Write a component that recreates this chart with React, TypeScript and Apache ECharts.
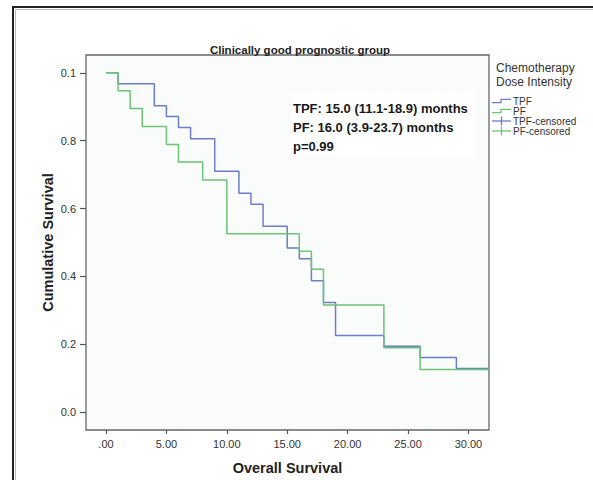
import React, { useEffect, useRef } from "react";
import * as echarts from "echarts";

// Kaplan-Meier step data: [time (months), cumulative survival]
const tpfTimes = [0, 1, 4, 5, 6, 7, 9, 11, 12, 13, 15, 16, 17, 18, 19, 23, 26, 29, 31.7];
const tpfSurvival = [1, 0.968, 0.903, 0.871, 0.839, 0.806, 0.71, 0.645, 0.613, 0.548, 0.484, 0.452, 0.387, 0.323, 0.226, 0.194, 0.161, 0.129, 0.129];
const pfTimes = [0, 1, 2, 3, 5, 6, 8, 10, 16, 17, 18, 23, 26, 31.7];
const pfSurvival = [1, 0.947, 0.895, 0.842, 0.789, 0.737, 0.684, 0.526, 0.474, 0.421, 0.316, 0.19, 0.126, 0.126];

const xTickValues = [0, 5, 10, 15, 20, 25, 30];
const xTickLabels = [".00", "5.00", "10.00", "15.00", "20.00", "25.00", "30.00"];
const yTickValues = [0, 0.2, 0.4, 0.6, 0.8, 1.0];
const yTickLabels = ["0.0", "0.2", "0.4", "0.6", "0.8", "0.1"];

const legendTitle = ["Chemotherapy", "Dose Intensity"];
const legendNames = ["TPF", "PF", "TPF-censored", "PF-censored"];
const annotationLines = ["TPF: 15.0 (11.1-18.9) months", "PF: 16.0 (3.9-23.7) months", "p=0.99"];

const BLUE = "#6b7ec6";
const GREEN = "#6cc478";
const FONT = "'Liberation Sans', Arial, sans-serif";

export default function App() {
  const ref = useRef<HTMLDivElement>(null);
  useEffect(() => {
    if (!ref.current) return;
    const chart = echarts.init(ref.current, undefined, { renderer: "svg" });
    const tpfData = tpfTimes.map((t, i) => [t, tpfSurvival[i]]);
    const pfData = pfTimes.map((t, i) => [t, pfSurvival[i]]);

    const legendX = 492;
    const legendRows = [101, 111, 121, 131];
    const legendColors = [BLUE, GREEN, BLUE, GREEN];
    const legendGraphics: any[] = [];
    legendNames.forEach((name, i) => {
      const y = legendRows[i];
      if (i < 2) {
        legendGraphics.push({
          type: "polyline",
          shape: { points: [[legendX, y + 1.7], [legendX + 9, y + 1.7], [legendX + 9, y - 1.7], [legendX + 19, y - 1.7]] },
          style: { stroke: legendColors[i], lineWidth: 1.3, fill: null },
        });
      } else {
        legendGraphics.push({
          type: "line",
          shape: { x1: legendX, y1: y, x2: legendX + 19, y2: y },
          style: { stroke: legendColors[i], lineWidth: 1.3 },
        });
        legendGraphics.push({
          type: "line",
          shape: { x1: legendX + 9.5, y1: y - 4.5, x2: legendX + 9.5, y2: y + 4.5 },
          style: { stroke: legendColors[i], lineWidth: 1.3 },
        });
      }
      legendGraphics.push({
        type: "text",
        x: legendX + 21,
        y,
        style: { text: name, font: `10px ${FONT}`, lineHeight: 9.5, fill: "#333", verticalAlign: "middle" },
      });
    });

    chart.setOption({
      animation: false,
      backgroundColor: "#ffffff",
      title: {
        text: "Clinically good prognostic group",
        left: 295,
        textAlign: "center",
        top: 39,
        textStyle: { fontFamily: FONT, fontSize: 11.5, fontWeight: "bold", color: "#222" },
      },
      grid: {
        left: 86,
        top: 55,
        width: 403,
        height: 379,
        show: true,
        backgroundColor: "#fafbfb",
        borderColor: "#666",
        borderWidth: 1.3,
      },
      xAxis: {
        type: "value",
        min: -1.655,
        max: 31.7,
        name: "Overall Survival",
        nameLocation: "middle",
        nameGap: 30,
        nameMoveOverlap: false,
        nameTextStyle: { fontFamily: FONT, fontSize: 14.5, fontWeight: "bold", color: "#222" },
        axisLine: { show: false, onZero: false },
        splitLine: { show: false },
        axisTick: { show: true, customValues: xTickValues, length: 4, lineStyle: { color: "#555", width: 1.2 } },
        axisLabel: {
          customValues: xTickValues,
          formatter: (v: number) => {
            const i = xTickValues.findIndex((x) => Math.abs(x - v) < 1e-6);
            return i >= 0 ? xTickLabels[i] : "";
          },
          fontFamily: FONT,
          fontSize: 11,
          color: "#333",
          margin: 8,
        },
      },
      yAxis: {
        type: "value",
        min: -0.0525,
        max: 1.0525,
        name: "Cumulative Survival",
        nameLocation: "middle",
        nameGap: 31,
        nameMoveOverlap: false,
        nameTextStyle: { fontFamily: FONT, fontSize: 14.5, fontWeight: "bold", color: "#222" },
        axisLine: { show: false, onZero: false },
        splitLine: { show: false },
        axisTick: { show: true, customValues: yTickValues, length: 6, lineStyle: { color: "#555", width: 1.2 } },
        axisLabel: {
          customValues: yTickValues,
          formatter: (v: number) => {
            const i = yTickValues.findIndex((x) => Math.abs(x - v) < 1e-6);
            return i >= 0 ? yTickLabels[i] : "";
          },
          fontFamily: FONT,
          fontSize: 11,
          color: "#333",
          margin: 10,
        },
      },
      series: [
        {
          name: "TPF",
          type: "line",
          step: "end",
          data: tpfData,
          showSymbol: false,
          symbol: "none",
          lineStyle: { color: BLUE, width: 1.5 },
          itemStyle: { color: BLUE },
          z: 2,
        },
        {
          name: "PF",
          type: "line",
          step: "end",
          data: pfData,
          showSymbol: false,
          symbol: "none",
          lineStyle: { color: GREEN, width: 1.5 },
          itemStyle: { color: GREEN },
          z: 3,
        },
      ],
      graphic: [
        {
          type: "rect",
          shape: { x: 13, y: 7, width: 640, height: 540 },
          style: { fill: null, stroke: "#222", lineWidth: 2 },
          silent: true,
        },
        {
          type: "rect",
          shape: { x: 15.5, y: 9.5, width: 640, height: 540 },
          style: { fill: null, stroke: "#bbb", lineWidth: 1 },
          silent: true,
        },
        {
          type: "rect",
          shape: { x: 291, y: 92, width: 184, height: 64 },
          style: { fill: "#ffffff", stroke: null },
          z: 5,
        },
        ...annotationLines.map((t, i) => ({
          type: "text",
          x: 293,
          y: 108 + i * 19,
          z: 6,
          style: { text: t, font: `bold 13px ${FONT}`, fill: "#1a1a1a", verticalAlign: "middle" },
        })),
        {
          type: "text",
          x: 496,
          y: 68,
          style: { text: legendTitle[0], font: `12px ${FONT}`, fill: "#333", verticalAlign: "middle" },
        },
        {
          type: "text",
          x: 496,
          y: 82,
          style: { text: legendTitle[1], font: `12px ${FONT}`, fill: "#333", verticalAlign: "middle" },
        },
        ...legendGraphics,
      ],
    });
    return () => chart.dispose();
  }, []);
  return <div ref={ref} style={{ width: 593, height: 480, position: "absolute", left: 0, top: 0 }} />;
}
